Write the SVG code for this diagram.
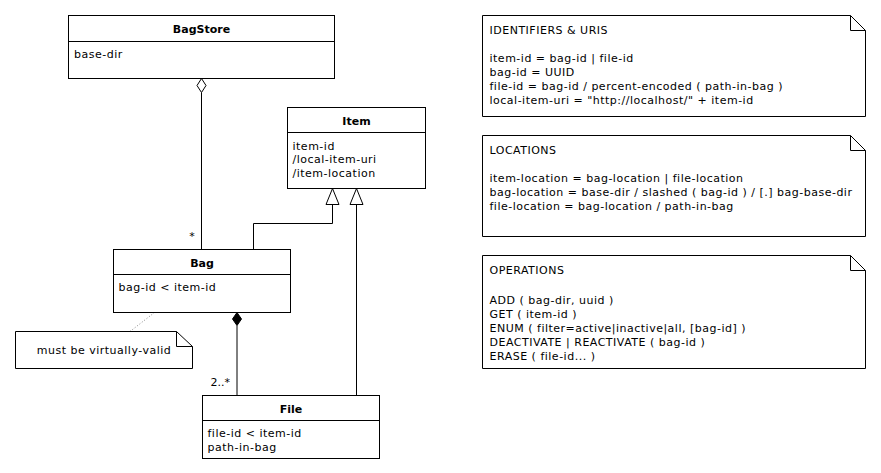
<svg xmlns="http://www.w3.org/2000/svg" width="881" height="473" viewBox="0 0 881 473">
<style>
text { font-family: "DejaVu Sans", Verdana, sans-serif; font-size: 11px; fill: #000; }
.t { font-weight: bold; text-anchor: middle; }
.a { letter-spacing: 0.5px; }
.m { text-anchor: middle; }
.box { fill: #fff; stroke: #000; stroke-width: 1; }
.ln { fill: none; stroke: #000; stroke-width: 1; }
.hollow { fill: #fff; stroke: #000; stroke-width: 1; }
.solid { fill: #000; stroke: #000; stroke-width: 1; }
</style>
<rect width="881" height="473" fill="#fff"/>

<g id="connectors">
  <!-- aggregation BagStore - Bag -->
  <line class="ln" x1="201.5" y1="92.5" x2="201.5" y2="249.5"/>
  <polygon class="hollow" points="201.5,78.5 206,85.5 201.5,92.5 197,85.5"/>
  <text class="m" x="192" y="240">*</text>
  <!-- generalization Bag -> Item -->
  <polyline class="ln" points="253.5,249.5 253.5,223.5 332.5,223.5 332.5,204.5"/>
  <polygon class="hollow" points="332.5,188.5 339,204.5 326,204.5"/>
  <!-- generalization File -> Item -->
  <line class="ln" x1="356.5" y1="395.5" x2="356.5" y2="204.5"/>
  <polygon class="hollow" points="356.5,188.5 363,204.5 350,204.5"/>
  <!-- composition Bag - File -->
  <line class="ln" x1="237" y1="325.5" x2="237" y2="395.5"/>
  <polygon class="solid" points="237,312.5 241.5,319 237,325.5 232.5,319"/>
  <text x="210.5" y="386">2..*</text>
  <!-- note anchor -->
  <line x1="154.5" y1="312.5" x2="130" y2="331.5" stroke="#888" stroke-width="1" stroke-dasharray="1,2"/>
</g>

<g id="BagStore">
  <rect class="box" x="68.5" y="15.5" width="266" height="63"/>
  <line class="ln" x1="68.5" y1="41.5" x2="334.5" y2="41.5"/>
  <text class="t" x="201.5" y="33">BagStore</text>
  <text class="a" x="74" y="58">base-dir</text>
</g>

<g id="Item">
  <rect class="box" x="287.5" y="107.5" width="138" height="81"/>
  <line class="ln" x1="287.5" y1="132.5" x2="425.5" y2="132.5"/>
  <text class="t" x="356.5" y="125">Item</text>
  <text class="a" x="292.5" y="149.5">item-id</text>
  <text class="a" x="292.5" y="163.2">/local-item-uri</text>
  <text class="a" x="292.5" y="177">/item-location</text>
</g>

<g id="Bag">
  <rect class="box" x="113.5" y="249.5" width="177" height="63"/>
  <line class="ln" x1="113.5" y1="274.5" x2="290.5" y2="274.5"/>
  <text class="t" x="202" y="267">Bag</text>
  <text class="a" x="118.5" y="291">bag-id &lt; item-id</text>
</g>

<g id="File">
  <rect class="box" x="202.5" y="395.5" width="177" height="63"/>
  <line class="ln" x1="202.5" y1="420.5" x2="379.5" y2="420.5"/>
  <text class="t" x="291" y="413">File</text>
  <text class="a" x="207.5" y="436.5">file-id &lt; item-id</text>
  <text class="a" x="207.5" y="450.5">path-in-bag</text>
</g>

<g id="note-valid">
  <path class="box" d="M15.5,331.5 H176.5 L192.5,346.5 V368.5 H15.5 Z"/>
  <path class="ln" d="M176.5,331.5 V346.5 H192.5"/>
  <text class="a m" x="104" y="353.5">must be virtually-valid</text>
</g>

<g id="note-identifiers">
  <path class="box" d="M482.5,15.5 H850.5 L865.5,30.5 V116.5 H482.5 Z"/>
  <path class="ln" d="M850.5,15.5 V30.5 H865.5"/>
  <text class="a" x="489.5" y="33.5">IDENTIFIERS &amp; URIS</text>
  <text class="a" x="489.5" y="61.5">item-id = bag-id | file-id</text>
  <text class="a" x="489.5" y="75.5">bag-id = UUID</text>
  <text class="a" x="489.5" y="89.5">file-id = bag-id / percent-encoded ( path-in-bag )</text>
  <text class="a" x="489.5" y="103.5">local-item-uri = "http://localhost/" + item-id</text>
</g>

<g id="note-locations">
  <path class="box" d="M482.5,135.5 H850.5 L865.5,150.5 V236.5 H482.5 Z"/>
  <path class="ln" d="M850.5,135.5 V150.5 H865.5"/>
  <text class="a" x="489.5" y="153.5">LOCATIONS</text>
  <text class="a" x="489.5" y="181.7">item-location = bag-location | file-location</text>
  <text class="a" x="489.5" y="195.7">bag-location = base-dir / slashed ( bag-id ) / [.] bag-base-dir</text>
  <text class="a" x="489.5" y="209.7">file-location = bag-location / path-in-bag</text>
</g>

<g id="note-operations">
  <path class="box" d="M482.5,255.5 H850.5 L865.5,270.5 V368.5 H482.5 Z"/>
  <path class="ln" d="M850.5,255.5 V270.5 H865.5"/>
  <text class="a" x="489.5" y="273.5">OPERATIONS</text>
  <text class="a" x="489.5" y="303.5">ADD ( bag-dir, uuid )</text>
  <text class="a" x="489.5" y="317.5">GET ( item-id )</text>
  <text class="a" x="489.5" y="331.5">ENUM ( filter=active|inactive|all, [bag-id] )</text>
  <text class="a" x="489.5" y="345.5">DEACTIVATE | REACTIVATE ( bag-id )</text>
  <text class="a" x="489.5" y="359.5">ERASE ( file-id... )</text>
</g>
</svg>
